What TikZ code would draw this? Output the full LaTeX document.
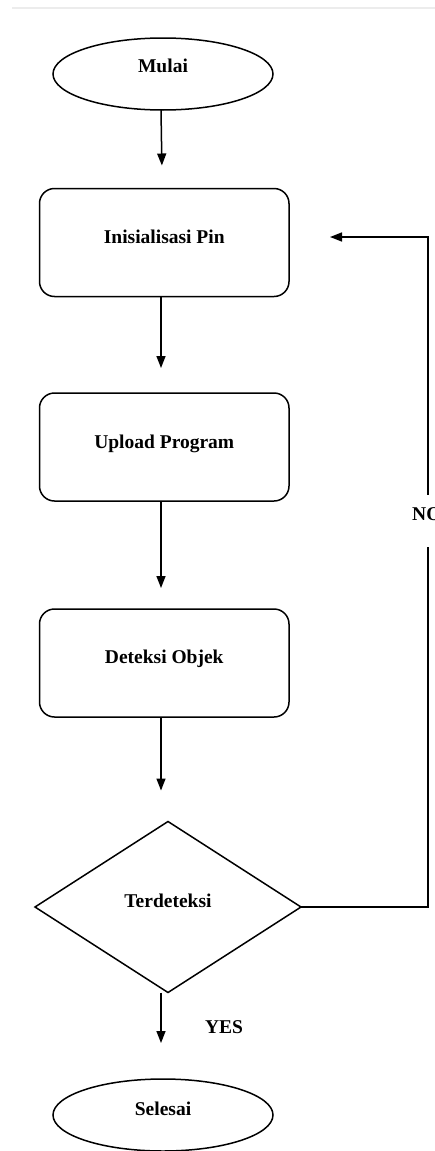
\documentclass[tikz,border=0pt]{standalone}
\usepackage{fontspec}
\setmainfont{Liberation Serif}
\usetikzlibrary{shapes.geometric,arrows.meta}
\begin{document}
\begin{tikzpicture}[x=1pt,y=-1pt,
  base/.style={draw=black, line width=1.5pt, outer sep=0pt, inner sep=0pt,
    font=\fontsize{19.5}{22}\bfseries\selectfont, text height=14pt, text depth=14pt},
  terminal/.style={base, ellipse, minimum width=220pt, minimum height=72pt},
  process/.style={base, rectangle, rounded corners=15pt, minimum width=249.5pt, minimum height=108pt},
  decision/.style={base, diamond, minimum width=266pt, minimum height=171pt},
  flow/.style={draw=black, line width=1.5pt, -{Triangle[length=12pt,width=9pt]}},
  lbl/.style={inner sep=0pt, font=\fontsize{19.5}{22}\bfseries\selectfont}
]
\useasboundingbox (0,0) rectangle (435,1151);
\fill[white] (0,0) rectangle (435,1151);
\draw[gray!15, line width=2pt] (12,8) -- (435,8);

\node[terminal, text depth=18pt] (mulai) at (163,74) {Mulai};
\node[process, text depth=13pt] (init) at (164.25,242.5) {Inisialisasi Pin};
\node[process, text depth=11pt] (upload) at (164.25,447) {Upload Program};
\node[process] (deteksi) at (164.25,663) {Deteksi Objek};
\node[decision] (dec) at (168,907) {Terdeteksi};
\node[terminal] (selesai) at (163,1115) {Selesai};

\draw[flow, shorten >=23pt] ([xshift=-2pt]mulai.south) -- ([xshift=-2pt]init.north);
\draw[flow, shorten >=25pt] ([xshift=-3.25pt]init.south) -- ([xshift=-3.25pt]upload.north);
\draw[flow, shorten >=21pt] ([xshift=-3.25pt]upload.south) -- ([xshift=-3.25pt]deteksi.north);
\draw[flow, shorten >=31pt] ([xshift=-3.25pt]deteksi.south) -- ([xshift=-7pt]dec.north);
\draw[flow, shorten >=36pt] ([xshift=-7pt]dec.south) -- ([xshift=-2pt]selesai.north);

\draw[flow, shorten >=41pt] (dec.east) -- ++(127,0) |- ([yshift=5.5pt]init.east);

\node[lbl, anchor=base west, fill=white, text height=25pt, text depth=27pt] (no) at (412,520) {NO};
\node[lbl, anchor=base] (yes) at (224,1033) {YES};
\end{tikzpicture}
\end{document}
